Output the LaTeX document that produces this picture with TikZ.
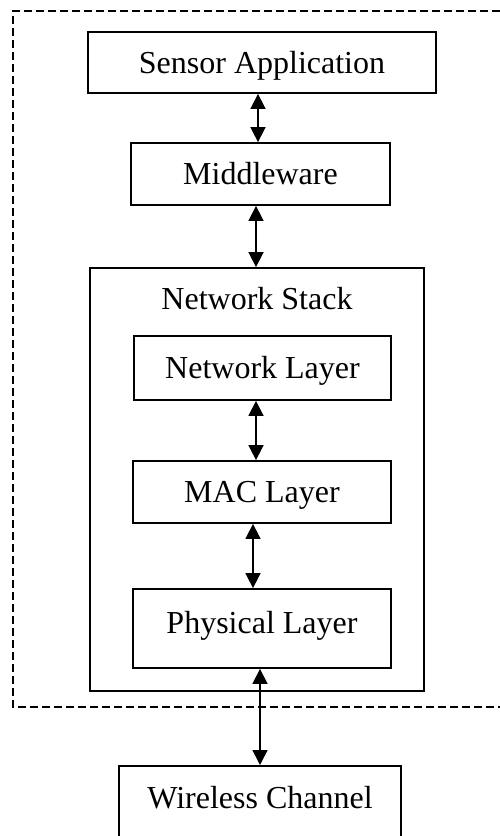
\documentclass[tikz,border=0pt]{standalone}
\usepackage{fontspec}
\setmainfont{Liberation Serif}
\usetikzlibrary{arrows.meta}
\begin{document}
\begin{tikzpicture}[x=1pt,y=-1pt,
  box/.style={draw, line width=1.8pt, inner sep=0pt, text height=21pt, text depth=0pt, font=\fontsize{32}{38}\selectfont},
  lbl/.style={inner sep=0pt, text height=21pt, text depth=0pt, font=\fontsize{32}{38}\selectfont},
  dbl/.style={{Triangle[length=15pt,width=15pt]}-{Triangle[length=15pt,width=15pt]}, line width=1.6pt},
  frame/.style={dash pattern=on 8pt off 4pt, line width=1.3pt}]
\useasboundingbox (0,0) rectangle (500,836);
\draw[frame] (500,11) -- (13,11) -- (13,707) -- (500,707);
\node[box, minimum width=348pt, minimum height=61pt] (sa) at (262,62.5) {Sensor Application};
\node[box, minimum width=259pt, minimum height=62pt] (mw) at (260.5,174) {Middleware};
\node[box, minimum width=334pt, minimum height=423pt] (ns) at (257,479.5) {};
\node[lbl] (nsl) at (257,299) {Network Stack};
\node[box, minimum width=257pt, minimum height=64pt] (nl) at (262.5,368) {Network Layer};
\node[box, minimum width=258pt, minimum height=62pt] (mac) at (262,492) {MAC Layer};
\node[box, minimum width=258pt, minimum height=79pt] (phy) at (262,628.5) {\raisebox{5.5pt}{Physical Layer}};
\node[box, minimum width=282pt, minimum height=90pt, anchor=north] (wc) at (260,765) {\raisebox{12.5pt}{Wireless Channel}};
\draw[dbl] ([xshift=-4pt]sa.south) -- ([xshift=-2.5pt]mw.north);
\draw[dbl] ([xshift=-4.5pt]mw.south) -- ([xshift=-1pt]ns.north);
\draw[dbl] ([xshift=-6.5pt]nl.south) -- ([xshift=-6pt]mac.north);
\draw[dbl] ([xshift=-9pt]mac.south) -- ([xshift=-9pt]phy.north);
\draw[dbl] ([xshift=-2pt]phy.south) -- (wc.north);
\end{tikzpicture}
\end{document}
